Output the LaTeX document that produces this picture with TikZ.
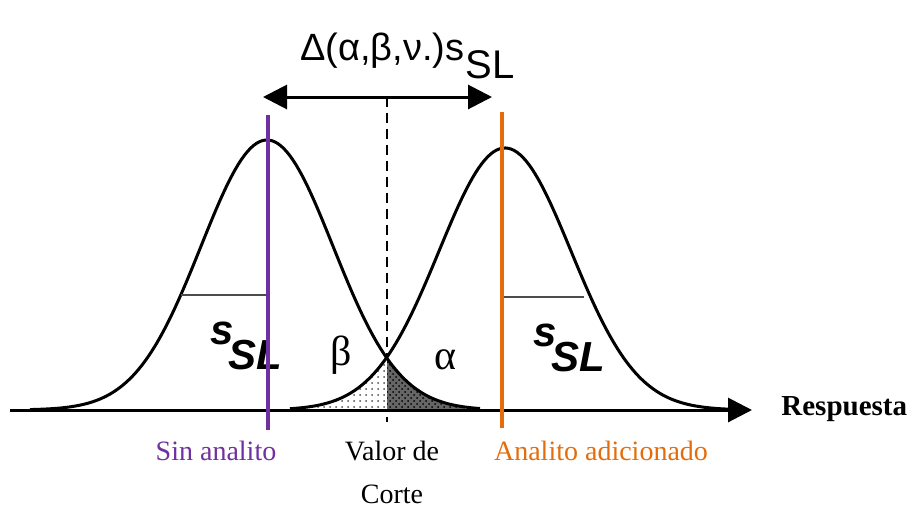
\documentclass[tikz,border=0pt]{standalone}
\usepackage{fontspec}
\setmainfont{Liberation Serif}
\newfontfamily\sansf{Liberation Sans}
\usetikzlibrary{arrows.meta,patterns}
\usepackage{xcolor}

\definecolor{sincol}{RGB}{112,48,160}
\definecolor{adicol}{RGB}{228,108,10}

\begin{document}
\begin{tikzpicture}[
    x=0.5pt, y=-0.5pt,
    curva/.style={line width=1.5pt, black},
    flecha/.style={line width=1.5pt, -{Triangle[length=12pt,width=12pt]}},
    etiq/.style={font=\fontsize{14}{16}\selectfont, inner sep=0pt},
    griego/.style={font=\fontsize{21}{24}\selectfont, inner sep=0pt},
    sslab/.style={font=\sansf\bfseries\itshape\fontsize{21}{24}\selectfont, inner sep=0pt}
]

\useasboundingbox (0,0) rectangle (909,509);

% ---------------------------------
% Tails (alpha and beta)
% ---------------------------------
\fill[pattern=dots, pattern color=black!70]
    (310,410) -- plot[domain=310:387, samples=40]
    (\x, {410-262*exp(-0.5*((\x-505)/66)^2)}) -- (387,410) -- cycle;
\fill[black!60]
    (387,410) -- plot[domain=387:465, samples=40]
    (\x, {410-270*exp(-0.5*((\x-267)/66)^2)}) -- (465,410) -- cycle;
\fill[pattern=crosshatch dots, pattern color=black]
    (387,410) -- plot[domain=387:465, samples=40]
    (\x, {410-270*exp(-0.5*((\x-267)/66)^2)}) -- (465,410) -- cycle;

% ---------------------------------
% Curves
% ---------------------------------
\draw[curva] plot[domain=30:480, samples=150]
    (\x, {410-270*exp(-0.5*((\x-267)/66)^2)});
\draw[curva] plot[domain=290:730, samples=150]
    (\x, {410-262*exp(-0.5*((\x-505)/66)^2)});

% widths
\draw[line width=0.6pt, black!70] (181,295) -- (267,295);
\draw[line width=0.6pt, black!70] (502,297) -- (584,297);

% ---------------------------------
% Axis
% ---------------------------------
\coordinate (ejeA) at (10,410);
\coordinate (ejeB) at (752,410);
\draw[flecha] (ejeA) -- (ejeB);
\node[etiq, anchor=west, font=\bfseries\fontsize{14.5}{16}\selectfont] (resp) at (781,409) {Respuesta};

% ---------------------------------
% Cut value and distance
% ---------------------------------
\coordinate (deltaL) at (263,97);
\coordinate (deltaR) at (492,97);
\coordinate (corte) at (387,357);
\coordinate (corteB) at (387,422);
\draw[line width=1.5pt, {Triangle[length=12pt,width=12pt]}-{Triangle[length=12pt,width=12pt]}] (deltaL) -- (deltaR);
\draw[line width=1pt, dashed, dash pattern=on 5pt off 3pt] (387,97) -- (corte);
\draw[line width=1pt] (387,417) -- (corteB);

\node[anchor=base west, inner sep=0pt, font=\sansf\fontsize{19}{22}\selectfont] (delta) at (300,60)
    {Δ(α,β,ν.)s};
\node[anchor=base west, inner sep=0pt, font=\sansf\fontsize{20}{22}\selectfont] (deltaSL) at (delta.base east) [yshift=-9pt]
    {SL};

\node[griego] (beta) at (341,355) {β};
\node[griego] (alfa) at (445,360) {α};

% s_SL labels
\node[sslab] (sIzq) at (222,333) {s};
\node[sslab, anchor=west] (slIzq) at ([xshift=-3pt,yshift=-11pt]sIzq.east) {SL};
\node[sslab] (sDer) at (545,335) {s};
\node[sslab, anchor=west] (slDer) at ([xshift=-3pt,yshift=-11pt]sDer.east) {SL};

% ---------------------------------
% Reference lines
% ---------------------------------
\coordinate (sinTop) at (268,115);
\coordinate (sinBot) at (268,430);
\coordinate (adiTop) at (502,112);
\coordinate (adiBot) at (502,428);
\draw[line width=1.6pt, sincol] (sinTop) -- (sinBot);
\draw[line width=1.6pt, adicol] (adiTop) -- (adiBot);

\node[etiq, text=sincol] (sin) at (216,451) {Sin analito};
\node[etiq] (valor) at (392,451) {Valor de};
\node[etiq] (corteLab) at (392,494) {Corte};
\node[etiq, text=adicol] (adi) at (601,451) {Analito adicionado};

\end{tikzpicture}
\end{document}
